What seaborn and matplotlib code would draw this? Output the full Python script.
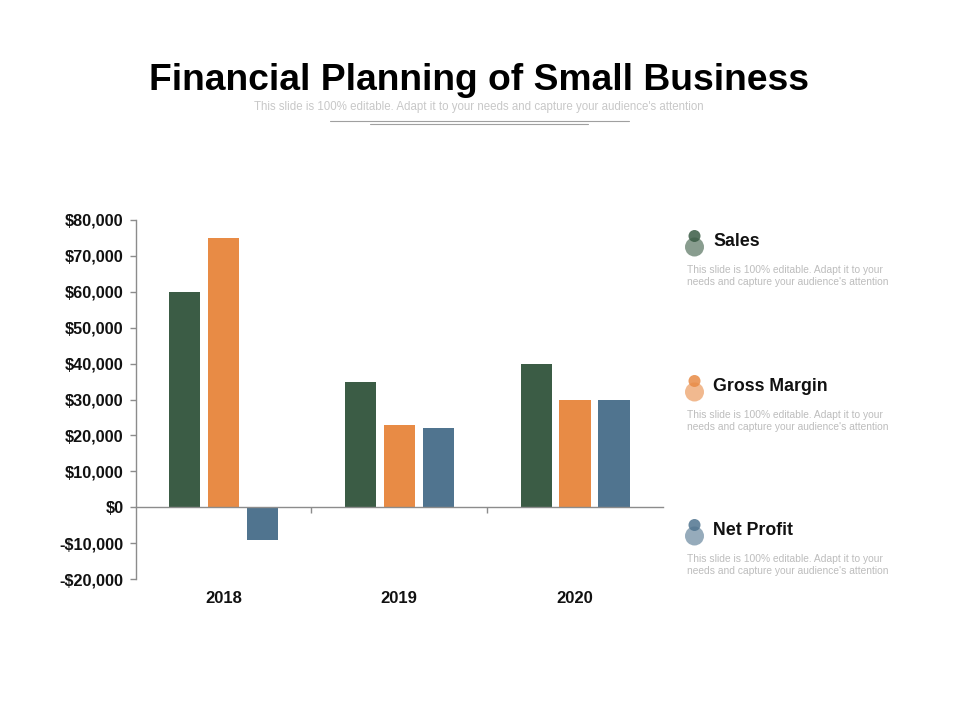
import matplotlib
matplotlib.use("Agg")
import matplotlib.pyplot as plt
from matplotlib.patches import Circle
from matplotlib.ticker import FuncFormatter
import pandas as pd
import seaborn as sns

YEARS = ["2018", "2019", "2020"]
SERIES = ["Sales", "Gross Margin", "Net Profit"]
SALES = [60000, 35000, 40000]
GROSS_MARGIN = [75000, 23000, 30000]
NET_PROFIT = [-9000, 22000, 30000]
COLORS = ["#3B5C45", "#E88B45", "#50748F"]
Y_TICKS = [-20000, -10000, 0, 10000, 20000, 30000, 40000, 50000, 60000, 70000, 80000]

TITLE = "Financial Planning of Small Business"
SUBTITLE = "This slide is 100% editable. Adapt it to your needs and capture your audience's attention"
BLURB = "This slide is 100% editable. Adapt it to your\nneeds and capture your audience's attention"

W, H = 960, 720

sns.set_theme(style="white")
plt.rcParams["font.family"] = ["Liberation Sans", "DejaVu Sans"]

df = pd.DataFrame(
    {
        "year": YEARS * 3,
        "series": [s for s in SERIES for _ in YEARS],
        "value": SALES + GROSS_MARGIN + NET_PROFIT,
    }
)

fig = plt.figure(figsize=(W / 100, H / 100), dpi=100)
ax = fig.add_axes([135.5 / W, 1 - 579 / H, (663 - 135.5) / W, (579 - 220) / H])

sns.barplot(
    data=df,
    x="year",
    y="value",
    hue="series",
    hue_order=SERIES,
    palette=COLORS,
    width=0.665,
    gap=0.2,
    saturation=1,
    legend=False,
    linewidth=0,
    ax=ax,
)

ax.set_xlim(-0.5, 2.5)
ax.set_ylim(-20000, 80000)
ax.set_yticks(Y_TICKS)
ax.yaxis.set_major_formatter(
    FuncFormatter(lambda v, _: f"-${abs(v):,.0f}" if v < 0 else f"${v:,.0f}")
)
ax.set_xlabel("")
ax.set_ylabel("")

for side in ["top", "right"]:
    ax.spines[side].set_visible(False)
for side in ["left", "bottom"]:
    ax.spines[side].set_color("#8C8C8C")
    ax.spines[side].set_linewidth(1)
ax.spines["bottom"].set_position(("data", 0))

ax.tick_params(axis="y", length=4, width=1, color="#8C8C8C", pad=4.5, labelsize=11.7, left=True)
ax.tick_params(axis="x", which="major", length=0, pad=60.5, labelsize=12)
ax.set_xticks([0.5, 1.5], minor=True)
ax.tick_params(axis="x", which="minor", length=4, width=1, color="#8C8C8C", bottom=True)
for label in ax.get_xticklabels() + ax.get_yticklabels():
    label.set_fontweight("bold")
    label.set_color("#111111")

# overlay in pixel coordinates for the slide furniture
over = fig.add_axes([0, 0, 1, 1], zorder=5)
over.set_xlim(0, W)
over.set_ylim(H, 0)
over.axis("off")
over.patch.set_alpha(0)

over.text(479, 80, TITLE, ha="center", va="center", fontsize=26.8, fontweight="bold", color="black")
over.text(478.5, 107, SUBTITLE, ha="center", va="center", fontsize=8.3, color="#C8C8C8")
over.plot([330, 629], [120.5, 120.5], color="#A0A0A0", lw=0.8)
over.plot([370, 588], [123.5, 123.5], color="#A0A0A0", lw=0.8)

for name, color, y in zip(SERIES, COLORS, [241, 386, 530]):
    over.add_patch(Circle((694.5, y - 5), 6, color=color, alpha=0.85, lw=0))
    over.add_patch(Circle((694.5, y + 6), 9.5, color=color, alpha=0.6, lw=0))
    over.text(713, y + 5, name, ha="left", va="baseline", fontsize=12.8, fontweight="bold", color="#111111")
    over.text(687, y + 35, BLURB, ha="left", va="center", fontsize=7.4, color="#BDBDBD", linespacing=1.3)

fig.savefig("out.png", dpi=100, facecolor="white")
